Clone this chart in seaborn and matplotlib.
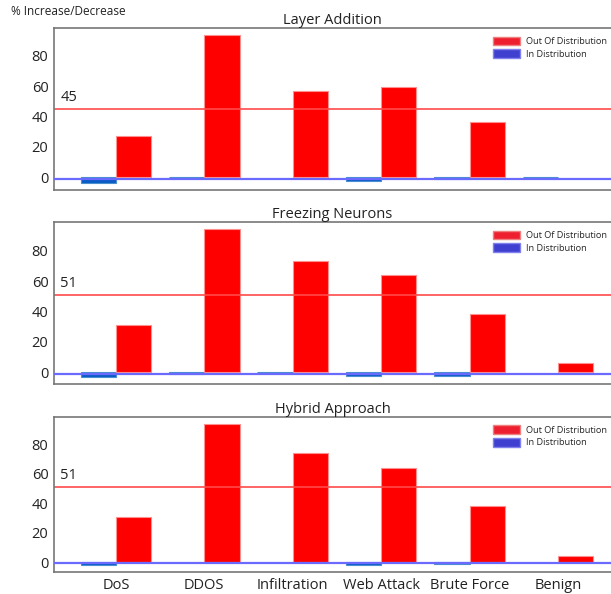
import pandas as pd
import seaborn as sns
import matplotlib.pyplot as plt
from matplotlib.patches import Patch

categories = ['DoS', 'DDOS', 'Infiltration', 'Web Attack', 'Brute Force', 'Benign']
panels = ['Layer Addition', 'Freezing Neurons', 'Hybrid Approach']

# % change per attack class
ood_values = [
    [27.0, 94.0, 57.0, 59.4, 36.2, 0.0],
    [31.0, 94.3, 73.2, 64.0, 38.3, 6.4],
    [31.0, 94.2, 74.4, 64.3, 38.3, 3.9],
]
ind_values = [
    [-3.7, 0.3, 0.0, -2.6, -1.5, 0.3],
    [-3.0, -1.3, 0.4, -2.2, -2.6, 0.0],
    [-2.0, 0.0, 0.0, -2.0, -1.5, 0.0],
]
ood_mean = [45, 51, 51]
ind_mean = [-1.5, -1.1, -0.9]

sns.set_style('white')
plt.rcParams['font.family'] = ['Open Sans', 'DejaVu Sans']

fig = plt.figure(figsize=(6.11, 5.94), dpi=100)
boxes = [(0.0884, 0.680, 0.9116, 0.2729),
         (0.0884, 0.3535, 0.9116, 0.2728),
         (0.0884, 0.0370, 0.9116, 0.2615)]
ylims = [(-8.6, 98.5), (-7.7, 99), (-6.8, 99)]

for i, name in enumerate(panels):
    ax = fig.add_axes(boxes[i])
    df = pd.DataFrame({
        'Attack': categories * 2,
        'Value': ind_values[i] + ood_values[i],
        'Set': ['In Distribution'] * 6 + ['Out Of Distribution'] * 6,
    })
    sns.barplot(data=df, x='Attack', y='Value', hue='Set',
                hue_order=['In Distribution', 'Out Of Distribution'],
                palette=['#0a5cc4', '#ff0000'], width=0.8, ax=ax,
                legend=False, saturation=1)
    for bar in ax.patches:
        if bar.get_height() == 0:
            bar.set_visible(False)
            continue
        if bar.get_facecolor()[0] > 0.9:
            bar.set_edgecolor('#ff9090')
        else:
            bar.set_edgecolor('#4a90d0')
        bar.set_linewidth(0.8)
    ax.axhline(ood_mean[i], color='#ff4a4a', lw=1.2, zorder=1)
    ax.axhline(ind_mean[i], color='#6a6aff', lw=1.6, zorder=3)
    ax.text(-0.63, ood_mean[i] + 2.5, str(ood_mean[i]), fontsize=10.5,
            color='#222222', va='bottom')
    ax.set_xlim(-0.7, 5.6)
    ax.set_ylim(*ylims[i])
    ax.set_yticks([0, 20, 40, 60, 80])
    ax.set_xlabel('')
    ax.set_ylabel('')
    ax.set_title(name, fontsize=10.5, color='#222222', pad=3)
    ax.tick_params(axis='both', labelsize=10.5, colors='#333333',
                   length=3, width=0.8, direction='out', pad=1)
    ax.tick_params(axis='both', labelcolor='#222222')
    if i < 2:
        ax.set_xticklabels([])
    for s in ['left', 'top', 'bottom']:
        ax.spines[s].set_color('#777777')
        ax.spines[s].set_linewidth(1.2)
    ax.spines['right'].set_visible(False)
    handles = [Patch(facecolor='#ee2030', edgecolor='#ee8080', label='Out Of Distribution'),
               Patch(facecolor='#4040d0', edgecolor='#8080ee', label='In Distribution')]
    ax.legend(handles=handles, loc='upper left', bbox_to_anchor=(0.782, 0.97),
              frameon=False, fontsize=6.6, handlelength=2.9, handleheight=1.1,
              handletextpad=0.7, labelspacing=0.35, borderaxespad=0)

fig.text(0.018, 0.98, '% Increase/Decrease', fontsize=8.5, color='#222222',
         ha='left', va='center')

fig.savefig('out.png', dpi=100)
